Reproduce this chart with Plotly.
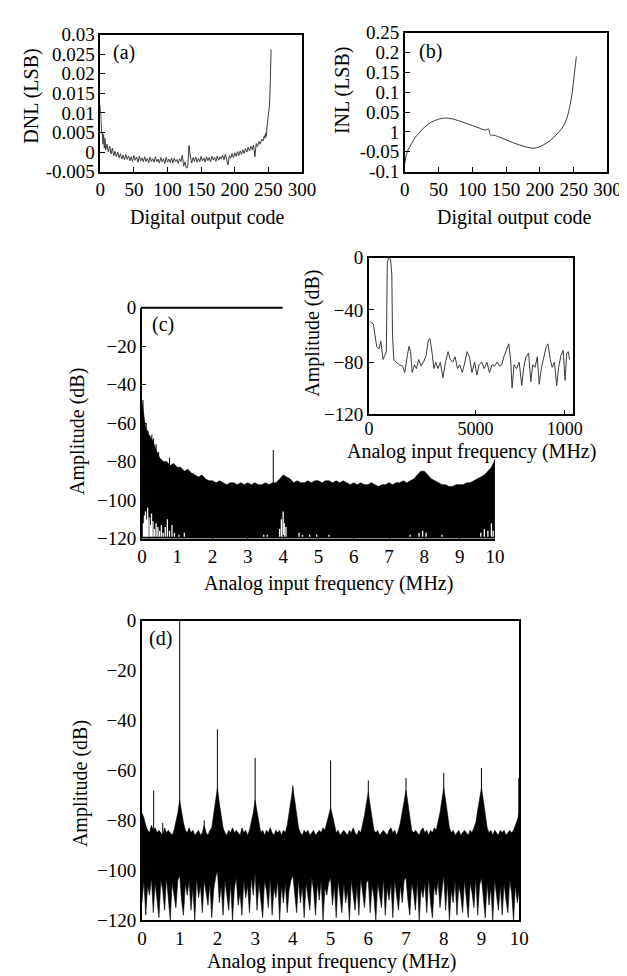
import plotly.graph_objects as go

W, H = 627, 976
FONT = "Liberation Serif"

# ---------------- (a) DNL ----------------
dnl_code = [0, 1, 2, 3, 4, 5, 6, 7, 8,
            10, 12, 14, 16, 18, 20, 22, 24, 26, 28, 30, 32, 34, 36, 38, 40, 42, 44, 46, 48,
            50, 52, 54, 56, 58, 60, 62, 64, 66, 68, 70, 72, 74, 76, 78, 80, 82, 84, 86, 88,
            90, 92, 94, 96, 98, 100, 102, 104, 106, 108, 110, 112, 114, 116, 118, 120, 122, 124, 126, 128,
            130, 132, 134, 136, 138, 140, 142, 144, 146, 148, 150, 152, 154, 156, 158, 160, 162, 164, 166, 168,
            170, 172, 174, 176, 178, 180, 182, 184, 186, 188, 190, 192, 194, 196, 198, 200, 202, 204, 206, 208,
            210, 212, 214, 216, 218, 220, 222, 224, 226, 228, 230, 232, 234, 236, 238, 240, 242, 244,
            245, 246, 247, 248, 249, 250, 251, 252, 253, 254]
dnl_val = [0.012, 0.006, 0.0048, 0.005, 0.002, 0.0045, 0.001, 0.0035, 0.0005,
           0.002, 0.0, 0.0015, -0.0005, 0.001, -0.001, 0.0002, -0.0012, 0.0, -0.0015, -0.0004, -0.0018, -0.0008, -0.002, -0.0006, -0.0019, -0.001, -0.0022, -0.0012, -0.0024,
           -0.0009, -0.0021, -0.0013, -0.0026, -0.0011, -0.0023, -0.0015, -0.0025, -0.0012, -0.0024, -0.0016, -0.0027, -0.0013, -0.0024, -0.0017, -0.0026, -0.0012, -0.0025, -0.0018, -0.0028,
           -0.0014, -0.0025, -0.0017, -0.0029, -0.0013, -0.0026, -0.0018, -0.0027, -0.0015, -0.0028, -0.0016, -0.0025, -0.0019, -0.0029, -0.0017, -0.0024, -0.0008, -0.0036, -0.0025, -0.0041,
           -0.0039, 0.0017, -0.0012, -0.0028, -0.0014, -0.0024, -0.0013, -0.0026, -0.0016, -0.0025, -0.0011, -0.0023, -0.0015, -0.0026, -0.0012, -0.0022, -0.0014, -0.0025, -0.0011, -0.002,
           -0.0013, -0.0024, -0.001, -0.0021, -0.0012, -0.0018, -0.0008, -0.002, -0.0006, -0.0022, -0.0033, -0.0009, -0.0016, -0.0004, -0.0014, -0.0002, -0.0011, 0.0001, -0.0009, 0.0003,
           -0.0006, 0.0006, -0.0004, 0.0009, 0.0, 0.0012, 0.0003, 0.0015, 0.0006, 0.0018, -0.0012, 0.0022, 0.0014, 0.0027, 0.002, 0.0033, 0.0028, 0.0042,
           0.0035, 0.0048, 0.004, 0.0065, 0.0075, 0.0095, 0.0108, 0.013, 0.0185, 0.0262]
dnl_ticks = [-0.005, 0, 0.005, 0.01, 0.015, 0.02, 0.025, 0.03]
dnl_ticktext = ["-0.005", "0", "0.005", "0.01", "0.015", "0.02", "0.025", "0.03"]

# ---------------- (b) INL ----------------
inl_code = [0, 2, 5, 10, 15, 20, 25, 30, 35, 40, 45, 50, 55, 60, 70, 80, 90, 100, 110, 118,
            122, 124, 126, 128, 130, 140, 150, 160, 170, 180, 190, 195, 200, 210, 220, 228,
            235, 240, 245, 248, 250, 252, 254]
inl_val = [-0.08, -0.06, -0.045, -0.03, -0.015, -0.005, 0.005, 0.013, 0.02, 0.025, 0.029, 0.032, 0.034, 0.035,
           0.033, 0.028, 0.022, 0.016, 0.01, 0.005, 0.006, 0.008, -0.005, -0.01, -0.008, -0.013, -0.02,
           -0.027, -0.033, -0.038, -0.041, -0.040, -0.037, -0.028, -0.015, 0.0, 0.015, 0.035, 0.07, 0.1,
           0.13, 0.16, 0.19]
inl_ticks = [-0.1, -0.05, 0, 0.05, 0.1, 0.15, 0.2, 0.25]
inl_ticktext = ["-0.1", "-0.05", "1", "0.05", "0.1", "0.15", "0.2", "0.25"]
code_ticks = [0, 50, 100, 150, 200, 250, 300]

# ---------------- (c) spectrum (0.1 MHz bins, upper envelope of noise) ----------------
c_freq = [round(i * 0.1, 1) for i in range(101)]
c_upper = [-49, -62, -66, -69, -74, -78, -80, -80, -82, -81,
           -83, -83, -85, -84, -86, -87, -88, -87, -89, -90,
           -90, -91, -90, -91, -92, -91, -91, -92, -91, -92,
           -91, -92, -91, -92, -92, -91, -92, -91, -91, -89,
           -87, -88, -89, -91, -90, -91, -91, -90, -91, -90,
           -90, -91, -90, -90, -91, -90, -91, -90, -91, -92,
           -91, -92, -91, -92, -92, -91, -92, -93, -92, -92,
           -91, -92, -91, -91, -90, -91, -90, -89, -87, -85,
           -85, -87, -89, -90, -91, -92, -92, -93, -93, -92,
           -92, -92, -91, -91, -90, -89, -88, -87, -85, -83,
           -79]
c_floor = -120
c_spike_f = [0.03, 0.12, 0.17, 0.22, 0.28, 0.33, 0.40, 0.47, 0.78, 1.45, 3.72]
c_spike_top = [-48, -60, -64, -67, -66, -68, -71, -75, -78, -86, -74]
c_spike_base = -95
# white gaps reaching up from the floor
c_gap_f = [0.04, 0.07, 0.10, 0.13, 0.16, 0.20, 0.24, 0.27, 0.31, 0.35, 0.40, 0.45, 0.50, 0.55,
           0.60, 0.66, 0.72, 0.78, 0.85, 0.92, 1.05, 1.20, 1.60, 2.30, 3.45, 3.55, 3.90, 3.95,
           4.00, 4.03, 4.08, 4.45, 4.55, 4.75, 4.95, 5.30, 7.60, 7.85, 7.95, 8.05, 8.50, 9.60,
           9.70, 9.80, 9.90, 9.95]
c_gap_top = [-112, -108, -106, -110, -104, -109, -113, -107, -111, -115, -112, -114, -116, -113,
             -117, -114, -110, -116, -113, -117, -118, -117, -119, -119, -118, -118, -115, -110,
             -106, -112, -114, -117, -118, -118, -118, -118, -118, -117, -116, -117, -118, -117,
             -115, -116, -112, -116]

# inset
ins_f = [60, 212, 364, 470, 560, 667, 742, 818, 864, 924, 1015, 1076, 1106, 1167, 1273, 1424, 1576,
         1682, 1803, 1879, 1955, 2030, 2136, 2227, 2333, 2439, 2561, 2682, 2788, 2864, 2955, 3045,
         3136, 3242, 3348, 3470, 3591, 3712, 3818, 3924, 4045, 4152, 4258, 4379, 4500, 4606, 4712,
         4833, 4955, 5061, 5167, 5288, 5409, 5530, 5652, 5773, 5894, 6015, 6121, 6227, 6348, 6470,
         6561, 6652, 6712, 6803, 6924, 7045, 7167, 7258, 7364, 7485, 7591, 7682, 7788, 7894, 7985,
         8091, 8197, 8318, 8394, 8500, 8591, 8697, 8803, 8894, 9000, 9106, 9197, 9273, 9348, 9409]
ins_amp = [-49, -51, -68, -70, -64, -78, -75, -72, -4, 0, -1, -13, -58, -78, -80, -82, -83,
           -88, -75, -68, -72, -88, -82, -85, -78, -83, -80, -75, -63, -62, -72, -85,
           -80, -85, -80, -92, -80, -72, -78, -80, -76, -85, -82, -88, -80, -72, -76,
           -88, -80, -90, -82, -80, -85, -80, -88, -82, -83, -80, -83, -82, -75, -69,
           -66, -80, -100, -82, -85, -80, -98, -84, -76, -73, -95, -82, -84, -76, -97,
           -84, -76, -68, -66, -78, -84, -80, -98, -84, -75, -71, -94, -73, -72, -78]
ins_xticks = [0, 5000, 9180]
ins_xticktext = ["0", "5000", "1000"]
ins_yticks = [0, -40, -80, -120]

# ---------------- (d) spectrum (0.05 MHz bins, upper/lower noise envelope) ----------------
d_freq = [round(i * 0.05, 2) for i in range(201)]
d_upper = [
    -77, -79, -82, -84, -85, -82, -84, -83, -85, -84, -85, -86, -83, -85, -84, -85, -86, -84, -81, -77,
    -72, -77, -81, -84, -85, -83, -85, -84, -86, -85, -84, -86, -85, -82, -85, -86, -84, -83, -78, -73,
    -67, -73, -79, -83, -85, -86, -84, -85, -83, -85, -84, -85, -86, -83, -85, -84, -86, -84, -81, -77,
    -72, -77, -82, -85, -84, -86, -84, -85, -83, -85, -86, -84, -85, -84, -86, -84, -85, -82, -77, -72,
    -67, -72, -78, -83, -85, -86, -84, -85, -84, -86, -85, -84, -86, -85, -84, -85, -83, -84, -81, -78,
    -75, -78, -82, -85, -84, -86, -85, -84, -85, -86, -84, -85, -83, -85, -86, -84, -85, -82, -78, -73,
    -69, -74, -80, -84, -85, -84, -86, -85, -84, -85, -86, -84, -83, -85, -84, -86, -84, -81, -77, -73,
    -68, -73, -79, -84, -85, -84, -85, -86, -84, -83, -85, -84, -86, -84, -85, -83, -84, -81, -77, -72,
    -67, -72, -78, -83, -85, -84, -86, -85, -84, -86, -85, -84, -85, -86, -84, -85, -83, -81, -76, -71,
    -67, -72, -78, -83, -85, -84, -86, -84, -85, -86, -84, -85, -84, -86, -85, -84, -85, -84, -82, -80,
    -77]
d_lower = [
    -113, -104, -118, -106, -110, -103, -117, -105, -112, -119, -104, -108, -116, -103, -111, -120, -105, -109, -115, -104,
    -102, -112, -118, -105, -110, -104, -116, -107, -120, -103, -111, -106, -117, -104, -109, -114, -105, -119, -108, -103,
    -100, -113, -106, -118, -104, -110, -116, -105, -120, -107, -103, -114, -109, -118, -104, -111, -106, -117, -103, -110,
    -101, -116, -105, -112, -119, -104, -108, -115, -103, -118, -107, -111, -104, -120, -106, -113, -105, -117, -108, -104,
    -102, -110, -117, -104, -113, -106, -119, -105, -111, -116, -103, -108, -118, -105, -112, -104, -120, -107, -110, -105,
    -103, -114, -106, -119, -104, -110, -117, -105, -113, -108, -120, -104, -111, -116, -106, -118, -103, -109, -115, -105,
    -104, -117, -106, -111, -120, -105, -109, -115, -103, -118, -107, -112, -105, -119, -104, -110, -116, -106, -113, -104,
    -103, -112, -118, -105, -109, -116, -104, -120, -107, -111, -105, -117, -103, -113, -119, -106, -110, -104, -115, -108,
    -102, -116, -105, -120, -108, -113, -104, -118, -106, -110, -117, -104, -112, -119, -105, -109, -115, -103, -118, -106,
    -103, -111, -119, -105, -114, -107, -120, -104, -110, -116, -106, -118, -105, -112, -117, -104, -109, -120, -106, -113,
    -108]
d_spike_f = [0.31, 0.55, 1.0, 1.65, 2.0, 3.0, 4.0, 5.0, 6.0, 7.0, 8.0, 9.0, 9.99]
d_spike_top = [-68, -81, 0, -80, -43.5, -55, -66, -56, -64, -63, -61, -59, -63]
d_spike_base = -88
mhz_ticks = list(range(0, 11))
db_ticks = [0, -20, -40, -60, -80, -100, -120]


def px_x(p):
    return p / W


def px_y(p):
    return 1 - p / H


def segs(xs, tops, base):
    X, Y = [], []
    for x, t in zip(xs, tops):
        X += [x, x, None]
        Y += [base, t, None]
    return X, Y


fig = go.Figure()

fig.add_trace(go.Scatter(x=dnl_code, y=dnl_val, mode="lines",
                         line=dict(color="#3a3a3a", width=1), xaxis="x", yaxis="y"))
fig.add_trace(go.Scatter(x=inl_code, y=inl_val, mode="lines", line_shape="spline",
                         line=dict(color="#3a3a3a", width=1), xaxis="x2", yaxis="y2"))

# (c)
fig.add_trace(go.Scatter(x=c_freq + [c_freq[-1], c_freq[0]],
                         y=c_upper + [c_floor, c_floor], mode="lines",
                         fill="toself", fillcolor="black", line=dict(color="black", width=0.6),
                         xaxis="x3", yaxis="y3"))
sx, sy = segs(c_spike_f, c_spike_top, c_spike_base)
fig.add_trace(go.Scatter(x=sx, y=sy, mode="lines", line=dict(color="black", width=1),
                         xaxis="x3", yaxis="y3"))
gx, gy = segs(c_gap_f, c_gap_top, c_floor + 1)
fig.add_trace(go.Scatter(x=gx, y=gy, mode="lines", line=dict(color="white", width=1.3),
                         xaxis="x3", yaxis="y3"))
# inset
fig.add_trace(go.Scatter(x=ins_f, y=ins_amp, mode="lines",
                         line=dict(color="#3a3a3a", width=1), xaxis="x4", yaxis="y4"))
# (d)
fig.add_trace(go.Scatter(x=d_freq + d_freq[::-1], y=d_upper + d_lower[::-1], mode="lines",
                         fill="toself", fillcolor="black", line=dict(color="black", width=0.6),
                         xaxis="x5", yaxis="y5"))
sx, sy = segs(d_spike_f, d_spike_top, d_spike_base)
fig.add_trace(go.Scatter(x=sx, y=sy, mode="lines", line=dict(color="black", width=1),
                         xaxis="x5", yaxis="y5"))

tickfont = dict(family=FONT, size=19, color="black")
common = dict(showgrid=False, zeroline=False, showline=True, linecolor="black",
              ticks="inside", tickcolor="black", tickfont=tickfont)

layout = dict(
    width=W, height=H, margin=dict(l=0, r=0, t=0, b=0), autosize=False,
    paper_bgcolor="white", plot_bgcolor="white", showlegend=False,
    xaxis=dict(common, domain=[px_x(90), px_x(298)], range=[0, 300], anchor="y",
               tickvals=code_ticks, ticklen=5, linewidth=1.5, mirror=True),
    yaxis=dict(common, domain=[px_y(157), px_y(17)], range=[-0.005, 0.03], anchor="x",
               tickvals=dnl_ticks, ticktext=dnl_ticktext, ticklen=5, linewidth=1.5, mirror=True),
    xaxis2=dict(common, domain=[px_x(404), px_x(613)], range=[0, 300], anchor="y2",
                tickvals=code_ticks, ticklen=5, linewidth=1.5, mirror=True),
    yaxis2=dict(common, domain=[px_y(157), px_y(15)], range=[-0.1, 0.25], anchor="x2",
                tickvals=inl_ticks, ticktext=inl_ticktext, ticklen=5, linewidth=1.5, mirror=True),
    xaxis3=dict(common, domain=[px_x(133), px_x(497)], range=[0, 10], anchor="y3",
                tickvals=mhz_ticks, ticklen=4, linewidth=2),
    yaxis3=dict(common, domain=[px_y(532), px_y(296)], range=[-120, 0], anchor="x3",
                tickvals=db_ticks, ticklen=4, linewidth=2),
    xaxis4=dict(common, domain=[px_x(367), px_x(577)], range=[0, 9545], anchor="y4",
                tickvals=ins_xticks, ticktext=ins_xticktext, ticklen=5, linewidth=1.5, mirror=True,
                ticklabelstandoff=-3, tickfont=dict(family=FONT, size=18, color="black")),
    yaxis4=dict(common, domain=[px_y(405), px_y(245)], range=[-120, 0], anchor="x4",
                tickvals=ins_yticks, ticklen=5, linewidth=1.5, mirror=True),
    xaxis5=dict(common, domain=[px_x(133), px_x(522)], range=[0, 10], anchor="y5",
                tickvals=mhz_ticks, ticks="", linewidth=2, mirror=True),
    yaxis5=dict(common, domain=[px_y(922), px_y(616)], range=[-120, 0], anchor="x5",
                tickvals=db_ticks, ticks="", linewidth=2, mirror=True),
)
fig.update_layout(**layout)

# partial top border of (c)
fig.add_shape(type="line", xref="paper", yref="paper",
              x0=px_x(132), x1=px_x(278), y0=px_y(296), y1=px_y(296),
              line=dict(color="black", width=2))

tfont = dict(family=FONT, size=20, color="black")
ann = [
    ("(a)", 114, 35, 0), ("(b)", 431, 34, 0), ("(c)", 155, 313, 0), ("(d)", 152, 634, 0),
    ("Digital output code", 201, 204, 0), ("DNL (LSB)", 19, 80, -90),
    ("Digital output code", 517, 204, 0), ("INL (LSB)", 340, 74, -90),
    ("Amplitude (dB)", 67, 422, -90), ("Analog input frequency (MHz)", 325, 578, 0),
    ("Amplitude (dB)", 308, 322, -90), ("Analog input frequency (MHz)", 473, 443, 0),
    ("Amplitude (dB)", 69, 782, -90), ("Analog input frequency (MHz)", 328, 964, 0),
]
for text, x, y, ang in ann:
    fig.add_annotation(text=text, x=px_x(x), y=px_y(y), xref="paper", yref="paper",
                       showarrow=False, textangle=ang, font=tfont,
                       xanchor="center", yanchor="middle")

fig.write_html("out.html")
